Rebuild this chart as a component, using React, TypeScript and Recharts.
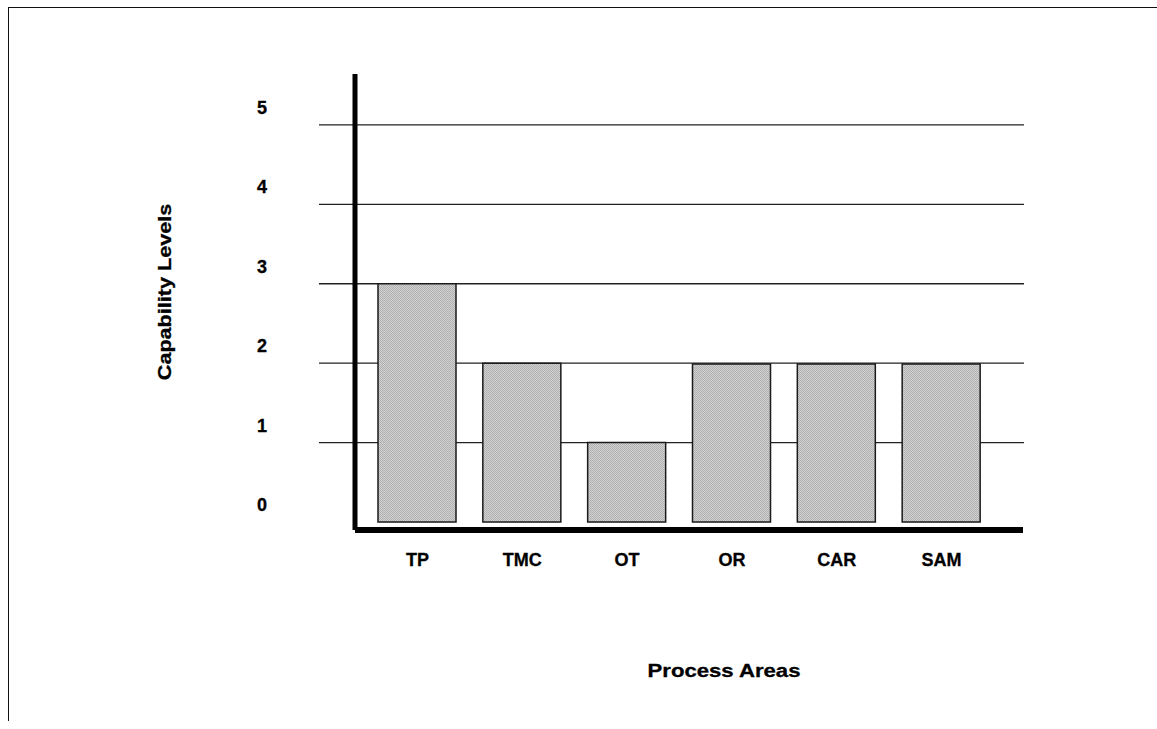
import React from "react";
import { BarChart, Bar, XAxis, YAxis, CartesianGrid, Label } from "recharts";

// capability level per process area
const areas = ["TP", "TMC", "OT", "OR", "CAR", "SAM"];
const levels = [3, 2, 1, 1.99, 1.99, 1.99];
const levelTicks = [0, 1, 2, 3, 4, 5];
const gridLevels = [1, 2, 3, 4, 5];

const data = areas.map((area, i) => ({ area, level: levels[i] }));

const FONT = "'Liberation Sans', Arial, Helvetica, sans-serif";

const YTick = (props: any) => {
  const { x, y, payload } = props;
  return (
    <text
      x={x - 93}
      y={y - 17}
      textAnchor="middle"
      dominantBaseline="central"
      fontFamily={FONT}
      fontWeight="bold"
      fontSize={18}
      stroke="#000"
      strokeWidth={0.3}
      fill="#000"
    >
      {payload.value}
    </text>
  );
};

const XTick = (props: any) => {
  const { x, y, payload } = props;
  return (
    <text
      x={x}
      y={y + 30}
      textAnchor="middle"
      dominantBaseline="central"
      fontFamily={FONT}
      fontWeight="bold"
      fontSize={18}
      stroke="#000"
      strokeWidth={0.3}
      fill="#000"
    >
      {payload.value}
    </text>
  );
};

// grid lines run a bit past the left axis, like the original
const GridLine = (props: any) => {
  const { x1, x2, y1, y2, index } = props;
  return (
    <line
      key={`h-${index}`}
      x1={x1 - 36}
      x2={x2 + 1}
      y1={y1}
      y2={y2}
      stroke="#222"
      strokeWidth={1.3}
    />
  );
};

export default function App() {
  return (
    <div style={{ position: "absolute", left: 0, top: 0, width: 1157, height: 729, background: "#fff" }}>
      <div
        style={{
          position: "absolute",
          left: 8,
          top: 7,
          width: 1149,
          height: 714,
          borderTop: "1.5px solid #111",
          borderLeft: "1.5px solid #111",
          boxSizing: "border-box",
        }}
      />
      <BarChart
        width={1157}
        height={729}
        data={data}
        margin={{ top: 74, right: 134, bottom: 0, left: 0 }}
        style={{ position: "absolute", left: 0, top: 0 }}
      >
        <defs>
          <pattern id="stipple" width="2" height="2" patternUnits="userSpaceOnUse">
            <rect width="2" height="2" fill="#d2d2d2" />
            <rect x="0" y="0" width="1" height="1" fill="#b0b0b0" />
            <rect x="1" y="1" width="1" height="1" fill="#b0b0b0" />
          </pattern>
        </defs>
        <CartesianGrid vertical={false} horizontalValues={gridLevels} horizontal={GridLine} />
        <XAxis
          dataKey="area"
          type="category"
          padding={{ left: 10, right: 29 }}
          height={199}
          axisLine={{ stroke: "#000", strokeWidth: 6 }}
          tickLine={false}
          tickSize={0}
          tickMargin={0}
          tick={XTick}
          interval={0}
        >
          <Label
            content={({ viewBox }: any) => {
              const cx = viewBox.x + viewBox.width / 2 + 35;
              const cy = viewBox.y + 141;
              return (
                <text
                  x={0}
                  y={0}
                  transform={`translate(${cx} ${cy}) scale(1.23 1)`}
                  textAnchor="middle"
                  dominantBaseline="central"
                  fontFamily={FONT}
                  fontWeight="bold"
                  fontSize={18}
                  stroke="#000"
                  strokeWidth={0.3}
                  fill="#000"
                >
                  Process Areas
                </text>
              );
            }}
          />
        </XAxis>
        <YAxis
          type="number"
          width={355}
          domain={[-0.1, 5.64]}
          allowDataOverflow
          ticks={levelTicks}
          axisLine={{ stroke: "#000", strokeWidth: 5 }}
          tickLine={false}
          tickSize={0}
          tickMargin={0}
          tick={YTick}
        >
          <Label
            content={({ viewBox }: any) => {
              const cx = viewBox.x + 165;
              const cy = viewBox.y + viewBox.height / 2 - 10;
              return (
                <text
                  x={0}
                  y={0}
                  transform={`translate(${cx} ${cy}) rotate(-90) scale(1.2 1)`}
                  textAnchor="middle"
                  dominantBaseline="central"
                  fontFamily={FONT}
                  fontWeight="bold"
                  fontSize={18}
                  stroke="#000"
                  strokeWidth={0.3}
                  fill="#000"
                >
                  Capability Levels
                </text>
              );
            }}
          />
        </YAxis>
        <Bar
          dataKey="level"
          barSize={78}
          fill="url(#stipple)"
          stroke="#1a1a1a"
          strokeWidth={1.5}
          isAnimationActive={false}
        />
      </BarChart>
    </div>
  );
}
